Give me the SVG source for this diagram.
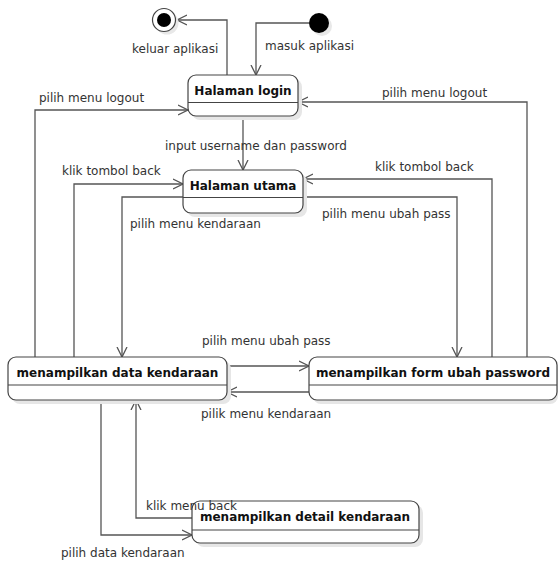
<svg xmlns="http://www.w3.org/2000/svg" width="558" height="561" viewBox="0 0 558 561">
<style>
.box{fill:#fff;stroke:#444;stroke-width:1.2}
.shadow{fill:#e6e6e6}
.div{stroke:#444;stroke-width:1.2}
.title{font-family:"DejaVu Sans",sans-serif;font-size:12px;font-weight:bold;fill:#111;text-anchor:middle}
.lbl{font-family:"DejaVu Sans",sans-serif;font-size:12px;fill:#333}
.c{fill:none;stroke:#555;stroke-width:1.3}
</style>
<defs>
<marker id="a" markerUnits="userSpaceOnUse" markerWidth="12" markerHeight="12" refX="10" refY="5" orient="auto" viewBox="0 0 12 10">
<path d="M0,0 L10,5 L0,10" fill="none" stroke="#555" stroke-width="1.3"/>
</marker>
</defs>
<rect width="558" height="561" fill="#fff"/>
<g id="connectors">
<path class="c" d="M227,75 V20 H177" marker-end="url(#a)"/>
<path class="c" d="M309,23 H256 V75" marker-end="url(#a)"/>
<path class="c" d="M243,116 V170" marker-end="url(#a)"/>
<path class="c" d="M35,357 V110 H188" marker-end="url(#a)"/>
<path class="c" d="M527,357 V102 H298" marker-end="url(#a)"/>
<path class="c" d="M74,357 V184 H183" marker-end="url(#a)"/>
<path class="c" d="M492,357 V179 H303" marker-end="url(#a)"/>
<path class="c" d="M183,197 H122 V357" marker-end="url(#a)"/>
<path class="c" d="M303,197 H457 V357" marker-end="url(#a)"/>
<path class="c" d="M227,366 H309" marker-end="url(#a)"/>
<path class="c" d="M309,392 H227" marker-end="url(#a)"/>
<path class="c" d="M101,400 V535 H192" marker-end="url(#a)"/>
<path class="c" d="M192,518 H136 V400" marker-end="url(#a)"/>
</g>
<g id="final">
<circle cx="167" cy="23" r="11.5" fill="#e8e8e8"/>
<circle cx="164" cy="20" r="11.5" fill="#fff" stroke="#444" stroke-width="1.2"/>
<circle cx="164" cy="20" r="7" fill="#000"/>
</g>
<g id="initial">
<circle cx="322" cy="26" r="10" fill="#e8e8e8"/>
<circle cx="319" cy="23" r="10" fill="#000"/>
</g>
<g id="login">
<rect class="shadow" x="192" y="79" width="110" height="41" rx="8"/>
<rect class="box" x="188" y="75" width="110" height="41" rx="8"/>
<line class="div" x1="188" y1="102.5" x2="298" y2="102.5"/>
<text class="title" x="243" y="95">Halaman login</text>
</g>
<g id="utama">
<rect class="shadow" x="187" y="174" width="120" height="43" rx="8"/>
<rect class="box" x="183" y="170" width="120" height="43" rx="8"/>
<line class="div" x1="183" y1="197.5" x2="303" y2="197.5"/>
<text class="title" x="243" y="190">Halaman utama</text>
</g>
<g id="data">
<rect class="shadow" x="12" y="361" width="219" height="43" rx="8"/>
<rect class="box" x="8" y="357" width="219" height="43" rx="8"/>
<line class="div" x1="8" y1="385" x2="227" y2="385"/>
<text class="title" x="117.5" y="377">menampilkan data kendaraan</text>
</g>
<g id="form">
<rect class="shadow" x="313" y="361" width="245" height="43" rx="8"/>
<rect class="box" x="309" y="357" width="248" height="43" rx="8"/>
<line class="div" x1="309" y1="385" x2="557" y2="385"/>
<text class="title" x="433" y="377">menampilkan form ubah password</text>
</g>
<g id="detail">
<rect class="shadow" x="196" y="505" width="227" height="42" rx="8"/>
<rect class="box" x="192" y="501" width="227" height="42" rx="8"/>
<line class="div" x1="192" y1="530" x2="419" y2="530"/>
<text class="title" x="305" y="521">menampilkan detail kendaraan</text>
</g>
<g id="labels">
<text class="lbl" x="132" y="53">keluar aplikasi</text>
<text class="lbl" x="265" y="50">masuk aplikasi</text>
<text class="lbl" x="39" y="102">pilih menu logout</text>
<text class="lbl" x="382" y="97">pilih menu logout</text>
<text class="lbl" x="165" y="150">input username dan password</text>
<text class="lbl" x="62" y="175">klik tombol back</text>
<text class="lbl" x="375" y="171">klik tombol back</text>
<text class="lbl" x="130" y="228">pilih menu kendaraan</text>
<text class="lbl" x="322" y="218">pilih menu ubah pass</text>
<text class="lbl" x="202" y="345">pilih menu ubah pass</text>
<text class="lbl" x="201" y="418">pilik menu kendaraan</text>
<text class="lbl" x="146" y="510">klik menu back</text>
<text class="lbl" x="61" y="557">pilih data kendaraan</text>
</g>
</svg>
